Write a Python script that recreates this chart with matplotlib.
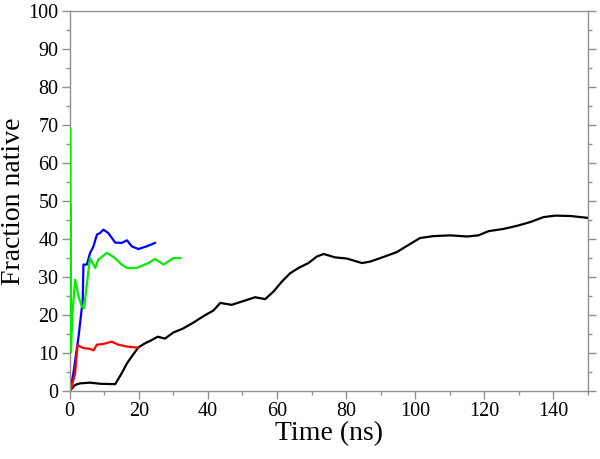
import numpy as np
import matplotlib
matplotlib.use("Agg")
import matplotlib.pyplot as plt
from matplotlib.ticker import MultipleLocator

plt.rcParams.update({"font.family": ["Liberation Serif", "DejaVu Serif"]})

# ---- data (time in ns, fraction native in %) ----
black_t = [0.1, 1.6, 3.0, 5.9, 8.8, 13.2, 15.1, 16.6, 18.0, 19.9, 21.9, 23.5, 25.5, 27.6,
           30.0, 32.7, 35.8, 38.7, 41.6, 43.6, 46.9, 50.3, 53.7, 56.6, 59.0, 61.4, 63.8,
           66.2, 69.1, 71.5, 73.5, 76.8, 80.2, 84.6, 87.0, 90.8, 94.7, 98.1, 101.4, 105.3,
           110.1, 115.0, 118.3, 121.2, 125.6, 129.4, 133.3, 137.1, 140.5, 144.9, 150.0]
black_v = [0.0, 1.5, 1.9, 2.1, 1.8, 1.7, 4.6, 7.2, 9.0, 11.4, 12.5, 13.2, 14.2, 13.7,
           15.3, 16.3, 17.9, 19.6, 21.1, 23.1, 22.6, 23.6, 24.6, 24.1, 26.1, 28.7, 30.9,
           32.3, 33.6, 35.3, 36.0, 35.1, 34.8, 33.6, 34.0, 35.2, 36.5, 38.4, 40.2, 40.7,
           40.9, 40.6, 40.9, 42.0, 42.6, 43.4, 44.4, 45.7, 46.1, 46.0, 45.5]

blue_t = [0.14, 1.1, 2.6, 3.8, 4.0, 5.0, 5.9, 6.9, 7.9, 8.8, 9.8, 11.2, 13.2, 15.1,
          16.6, 18.0, 19.9, 22.3, 24.7]
blue_v = [0.0, 4.6, 14.3, 23.9, 33.2, 33.2, 36.2, 38.0, 41.1, 41.5, 42.4, 41.5, 39.0, 38.9,
          39.6, 38.0, 37.3, 38.0, 38.9]

green_t = [0.25, 0.28, 0.32, 0.36, 0.4, 0.8, 1.6, 2.6, 3.5, 4.2, 4.8, 5.9, 7.4, 8.3,
           10.8, 12.7, 15.1, 16.6, 19.4, 22.8, 24.7, 27.2, 30.0, 32.0]
green_v = [69.0, 20.0, 49.0, 10.0, 10.3, 20.0, 29.2, 24.8, 22.2, 21.7, 26.6, 34.9, 32.3, 34.5,
           36.3, 35.2, 33.2, 32.3, 32.3, 33.6, 34.7, 33.2, 34.9, 34.9]

red_t = [0.3, 1.6, 2.3, 4.0, 5.9, 6.9, 7.9, 9.8, 12.2, 14.1, 16.6, 19.9]
red_v = [0.0, 4.6, 12.0, 11.2, 11.0, 10.6, 12.1, 12.3, 12.9, 12.1, 11.6, 11.3]

fig = plt.figure(figsize=(6.0, 4.59), dpi=100)
ax = fig.add_axes([0.116, 0.149, 0.864, 0.827])

lw = 1.6
ax.plot(black_t, black_v, color="black", lw=lw)
ax.plot(green_t, green_v, color="#00ee00", lw=lw, zorder=3)
ax.plot(blue_t, blue_v, color="#0000ff", lw=lw)
ax.plot(red_t, red_v, color="#ff0000", lw=lw)

ax.set_xlim(0, 150)
ax.set_ylim(0, 100)
ax.xaxis.set_major_locator(MultipleLocator(20))
ax.xaxis.set_minor_locator(MultipleLocator(10))
ax.yaxis.set_major_locator(MultipleLocator(10))
ax.yaxis.set_minor_locator(MultipleLocator(5))

for s in ax.spines.values():
    s.set_color("#909090")
    s.set_linewidth(1.0)
ax.tick_params(which="both", direction="out", color="#909090", labelsize=14.5,
               right=True, top=False, labelright=False, pad=2)
ax.tick_params(which="major", length=6, width=1.0)
ax.tick_params(which="minor", length=3, width=1.0)

ax.set_xlabel("Time (ns)", fontsize=20, labelpad=0)
ax.set_ylabel("Fraction native", fontsize=20, labelpad=2)

fig.savefig("out.png", dpi=100)
